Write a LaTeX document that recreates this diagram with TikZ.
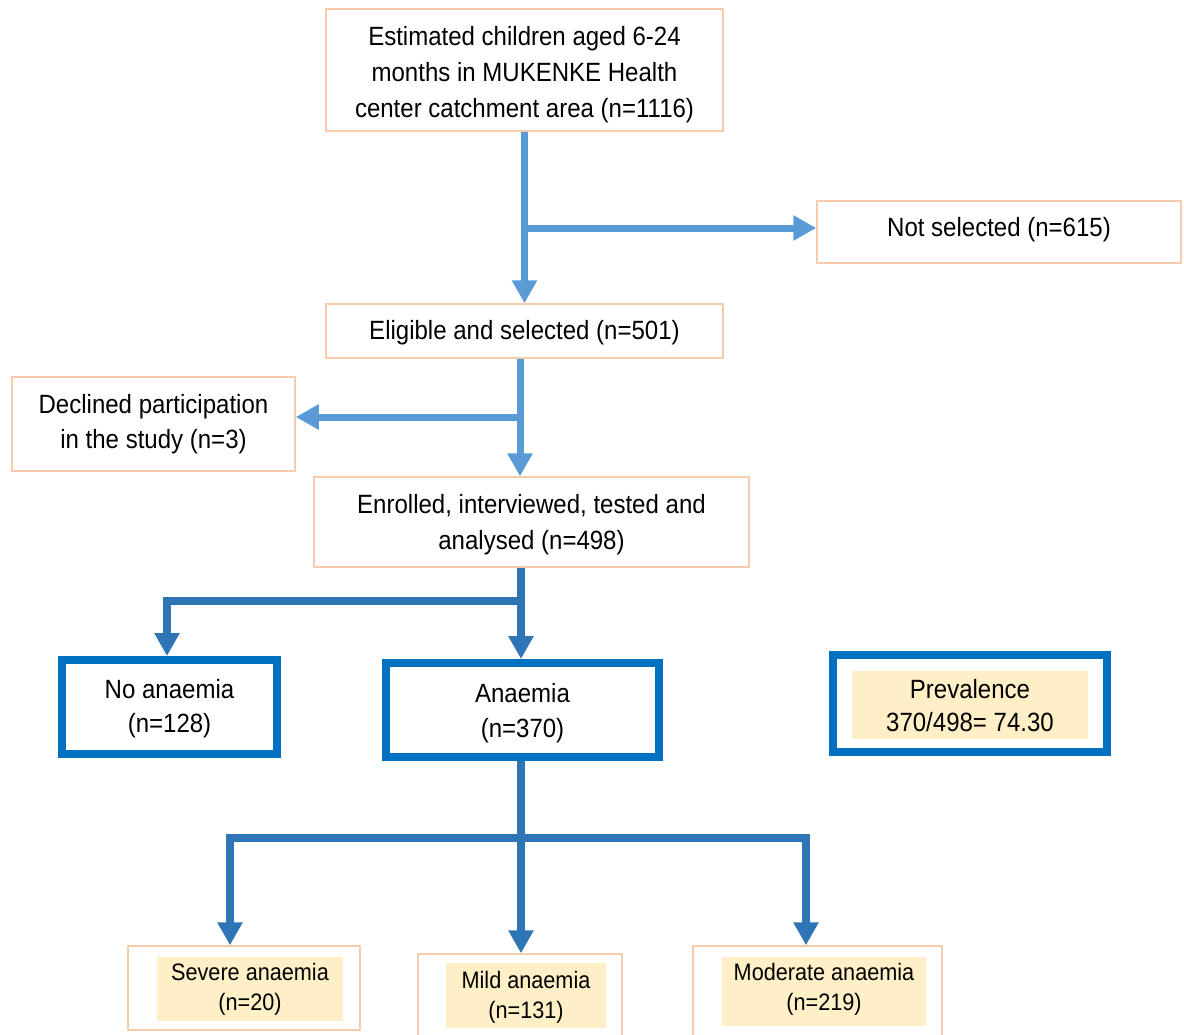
\documentclass[tikz,border=0pt]{standalone}
\usepackage{fontspec}
\setmainfont{Liberation Sans}[FakeStretch=0.91]
\usetikzlibrary{arrows.meta,calc}
\definecolor{peach}{HTML}{F8CBAD}
\definecolor{boxblue}{HTML}{0070C0}
\definecolor{ltblue}{HTML}{5B9BD5}
\definecolor{dkblue}{HTML}{2E75B6}
\definecolor{labfill}{HTML}{FFEFC6}
\tikzset{
  peachbox/.style={draw=peach, line width=1.5pt, fill=white, inner sep=0pt},
  bluebox/.style={draw=boxblue, line width=8pt, fill=white, inner sep=0pt},
  labbox/.style={fill=labfill, inner sep=0pt},
  txt/.style={inner sep=0pt, align=center, font=\fontsize{26.4}{36}\selectfont},
  smalltxt/.style={inner sep=0pt, align=center, font=\fontsize{23.8}{30}\selectfont},
  ltline/.style={draw=ltblue, line width=7pt},
  ltarrow/.style={ltline, -{Triangle[width=24pt,length=23pt]}},
  dkline/.style={draw=dkblue, line width=8pt, line join=miter},
  dkarrow/.style={dkline, -{Triangle[width=24pt,length=23pt]}}
}
\begin{document}
\begin{tikzpicture}[x=1pt,y=-1pt]
\useasboundingbox (0,0) rectangle (1184,1034);
% boxes
\node[peachbox, minimum width=397pt, minimum height=122pt] (top) at (524.5,70) {};
\node[txt] (topt) at (524.5,75)
  {Estimated children aged 6-24\\months in MUKENKE Health\\center catchment area (n=1116)};
\node[peachbox, minimum width=364pt, minimum height=62pt] (notsel) at (999,232) {};
\node[txt] (notselt) at (999,230) {Not selected (n=615)};
\node[peachbox, minimum width=397pt, minimum height=54pt] (elig) at (524.5,331) {};
\node[txt] (eligt) at (524.5,333) {Eligible and selected (n=501)};
\node[peachbox, minimum width=283pt, minimum height=94pt] (declined) at (153.5,424) {};
\node[txt, font=\fontsize{26.4}{35}\selectfont] (declinedt) at (153.5,424.5)
  {Declined participation\\in the study (n=3)};
\node[peachbox, minimum width=435pt, minimum height=90pt] (enrolled) at (531.5,522) {};
\node[txt] (enrolledt) at (531.5,525) {Enrolled, interviewed, tested and\\analysed (n=498)};
\node[bluebox, minimum width=215pt, minimum height=94pt] (noan) at (169.5,707) {};
\node[txt, font=\fontsize{26.4}{34}\selectfont] (noant) at (169.5,709) {No anaemia\\(n=128)};
\node[bluebox, minimum width=273pt, minimum height=94pt] (anaemia) at (522.5,710) {};
\node[txt, font=\fontsize{26.4}{35}\selectfont] (anaemiat) at (522.5,713.5) {Anaemia\\(n=370)};
\node[bluebox, minimum width=274pt, minimum height=97pt] (prev) at (970,703.5) {};
\node[labbox, minimum width=236pt, minimum height=68pt] (prevl) at (970,705) {};
\node[txt, font=\fontsize{26.4}{33}\selectfont] (prevt) at (970,706) {Prevalence\\370/498= 74.30};
\node[peachbox, minimum width=232pt, minimum height=84pt] (severe) at (244,988) {};
\node[labbox, minimum width=186pt, minimum height=64pt] (severel) at (250,989) {};
\node[smalltxt] (severet) at (250,989) {Severe anaemia\\(n=20)};
\node[peachbox, minimum width=204pt, minimum height=84pt] (mild) at (520,996) {};
\node[labbox, minimum width=160pt, minimum height=65pt] (mildl) at (526,995.5) {};
\node[smalltxt] (mildt) at (526,997) {Mild anaemia\\(n=131)};
\node[peachbox, minimum width=249pt, minimum height=92pt] (moderate) at (817.5,992) {};
\node[labbox, minimum width=204pt, minimum height=69pt] (moderatel) at (824,991.5) {};
\node[smalltxt] (moderatet) at (824,989) {Moderate anaemia\\(n=219)};
% connectors
\coordinate (j1) at (524.5,228);
\draw[ltarrow] (top.south) -- (elig.north);
\draw[ltarrow] (j1) -- (j1 -| notsel.west);
\coordinate (j2) at (520,417);
\draw[ltarrow] (elig.south -| j2) -- (enrolled.north -| j2);
\draw[ltarrow] (j2) -- (j2 -| declined.east);
\coordinate (j3) at (521,601);
\coordinate (j3l) at (167,601);
\draw[dkarrow] (enrolled.south -| j3) -- (anaemia.north -| j3);
\draw[dkarrow] (j3) -- (j3l) -- (noan.north -| j3l);
\coordinate (j4) at (521,838);
\coordinate (s4) at (230,838);
\coordinate (m4) at (806,838);
\draw[dkline] (anaemia.south -| j4) -- (j4);
\draw[dkarrow] (j4) -- (s4) -- (severe.north -| s4);
\draw[dkarrow] (j4) -- (m4) -- (moderate.north -| m4);
\draw[dkarrow] (j4) -- (mild.north -| j4);
\end{tikzpicture}
\end{document}
